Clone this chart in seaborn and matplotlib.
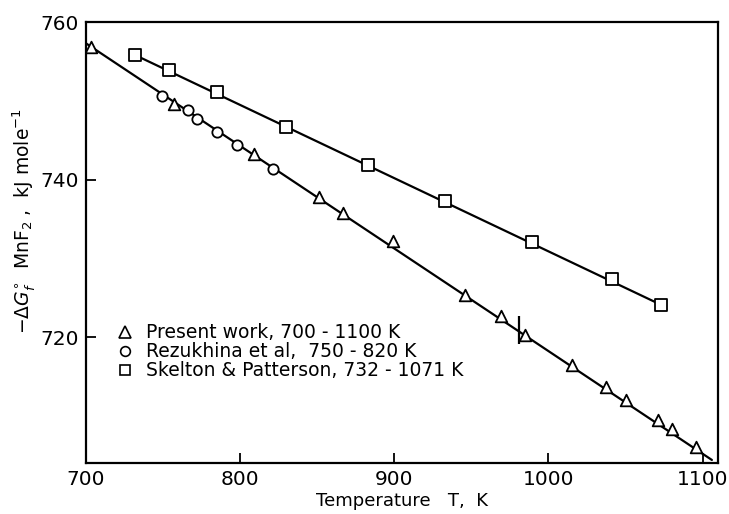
import matplotlib
matplotlib.use("Agg")
import matplotlib.pyplot as plt
from matplotlib.lines import Line2D
import seaborn as sns

# ---- data ----
present_T = [703, 757, 809, 851, 867, 899, 946, 969, 985, 1015, 1037, 1050, 1071, 1080, 1096]
present_G = [756.8, 749.6, 743.3, 737.8, 735.7, 732.2, 725.3, 722.7, 720.3, 716.5, 713.7, 712.0, 709.5, 708.3, 706.0]

rezukhina_T = [749, 766, 772, 785, 798, 821]
rezukhina_G = [750.6, 748.9, 747.7, 746.1, 744.4, 741.4]

skelton_T = [732, 754, 785, 830, 883, 933, 989, 1041, 1073]
skelton_G = [755.8, 753.9, 751.1, 746.7, 741.8, 737.3, 732.1, 727.4, 724.1]

# fitted lines
fit_present_T = [700, 981, 1106]
fit_present_G = [757.3, 720.7, 704.4]
fit_skelton_T = [732, 1073]
fit_skelton_G = [755.8, 724.1]

# alpha/beta transition mark
trans_T = [981]
trans_G = [720.9]

xticks = [700, 800, 900, 1000, 1100]
yticks = [720, 740, 760]

legend_labels = ["Present work, 700 - 1100 K",
                 "Rezukhina et al,  750 - 820 K",
                 "Skelton & Patterson, 732 - 1071 K"]

sns.set_style("ticks")
plt.rcParams['font.family'] = ['DejaVu Sans']
plt.rcParams['text.color'] = 'black'
plt.rcParams['axes.labelcolor'] = 'black'
plt.rcParams['xtick.color'] = 'black'
plt.rcParams['ytick.color'] = 'black'

fig = plt.figure(figsize=(7.29, 5.14), dpi=100)
ax = fig.add_axes([0.118, 0.099, 0.867, 0.858])

lw = 1.6
sns.lineplot(x=fit_present_T, y=fit_present_G, ax=ax, color="black", lw=lw, zorder=2)
sns.lineplot(x=fit_skelton_T, y=fit_skelton_G, ax=ax, color="black", lw=lw, zorder=2)

mk = dict(facecolor="white", edgecolor="black", linewidth=1.3, zorder=3)
sns.scatterplot(x=present_T, y=present_G, ax=ax, marker="^", s=70, **mk)
sns.scatterplot(x=rezukhina_T, y=rezukhina_G, ax=ax, marker="o", s=55, **mk)
sns.scatterplot(x=skelton_T, y=skelton_G, ax=ax, marker="s", s=65, **mk)

ax.plot(trans_T, trans_G, marker="|", markersize=20, markeredgewidth=1.6,
        color="black", linestyle="none", zorder=4)

ax.set_xlim(700, 1110)
ax.set_ylim(704, 760)
ax.set_xticks(xticks)
ax.set_yticks(yticks)
ax.tick_params(direction="in", length=7, width=1.3, labelsize=14.5,
               top=False, right=False, pad=5, colors="black")
for s in ax.spines.values():
    s.set_linewidth(1.6)
    s.set_color("black")

ax.set_xlabel("Temperature   T,  K", fontsize=13, labelpad=2, color="black")
ax.set_ylabel(r"$-\Delta G^{\circ}_{f}$  MnF$_2$ ,  kJ mole$^{-1}$",
              fontsize=13.5, color="black")
ax.yaxis.set_label_coords(-0.078, 0.55)

handles = [
    Line2D([], [], marker="^", color="black", markerfacecolor="white",
           linestyle="none", markersize=8, markeredgewidth=1.2),
    Line2D([], [], marker="o", color="black", markerfacecolor="white",
           linestyle="none", markersize=7, markeredgewidth=1.2),
    Line2D([], [], marker="s", color="black", markerfacecolor="white",
           linestyle="none", markersize=7, markeredgewidth=1.2),
]
leg = ax.legend(handles, legend_labels, loc="upper left",
                bbox_to_anchor=(0.035, 0.334), frameon=False, fontsize=13.5,
                handlelength=1.0, handletextpad=0.6, labelspacing=0.0,
                borderaxespad=0)
for t in leg.get_texts():
    t.set_color("black")

fig.savefig("out.png", dpi=100)
